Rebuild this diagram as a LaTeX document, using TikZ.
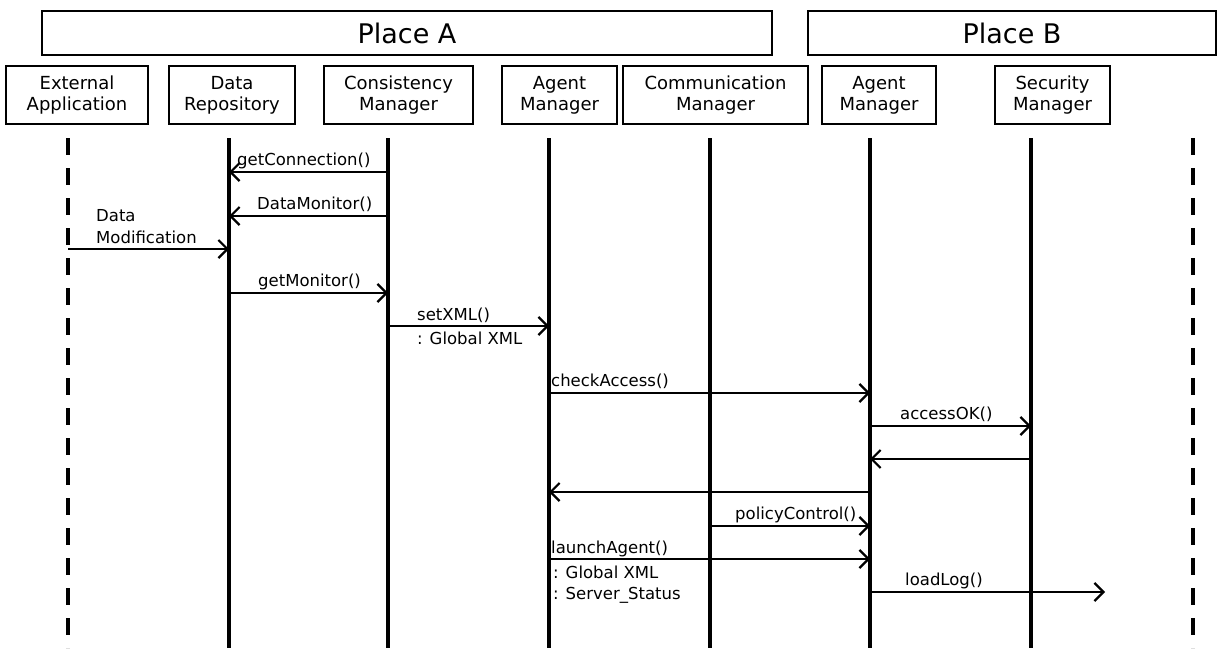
\documentclass[tikz,border=0pt]{standalone}
\usepackage{fontspec}
\setmainfont{DejaVu Sans}
\usetikzlibrary{arrows.meta}

\tikzset{
  placebox/.style={draw, line width=1.6pt, inner sep=0pt, minimum height=44pt, font=\fontsize{27}{30}\selectfont},
  actor/.style={draw, line width=1.6pt, inner sep=0pt, minimum height=58pt, align=center, font=\fontsize{18}{21}\selectfont},
  life/.style={line width=3.8pt},
  dashlife/.style={line width=4pt, dash pattern=on 17pt off 13pt},
  msg/.style={line width=1.6pt, -{Straight Barb[length=9pt,width=18pt,line width=2.2pt]}},
  lbl/.style={anchor=base west, inner sep=0pt, font=\fontsize{16.5}{20}\selectfont},
}

\begin{document}
\begin{tikzpicture}[x=1pt,y=-1pt]
        \useasboundingbox (0,0) rectangle (1221,648);
        % Places
            \node[placebox, minimum width=730pt] (placeA) at (407,33) {Place A};
            \node[placebox, minimum width=408pt] (placeB) at (1012,33) {Place B};
        % Actors
            \node[actor, minimum width=142pt] (extApp) at (77,95) {External\\Application};
            \node[actor, minimum width=126pt] (dataRep) at (232,95) {Data\\Repository};
            \node[actor, minimum width=149pt] (consMgr) at (398.5,95) {Consistency\\Manager};
            \node[actor, minimum width=115pt] (agentA) at (559.5,95) {Agent\\Manager};
            \node[actor, minimum width=185pt] (commMgr) at (715.5,95) {Communication\\Manager};
            \node[actor, minimum width=114pt] (agentB) at (879,95) {Agent\\Manager};
            \node[actor, minimum width=115pt] (secMgr) at (1052.5,95) {Security\\Manager};
        % Lifelines
            \coordinate (extL) at (68,138);
            \coordinate (repL) at (229,138);
            \coordinate (consL) at (388,138);
            \coordinate (agAL) at (549,138);
            \coordinate (comL) at (710,138);
            \coordinate (agBL) at (870,138);
            \coordinate (secL) at (1031,138);
            \coordinate (farL) at (1193,138);
            \draw[dashlife] (extL) -- (extL |- 0,648);
            \draw[dashlife] (farL) -- (farL |- 0,648);
            \foreach \l in {repL,consL,agAL,comL,agBL,secL}
                \draw[life] (\l) -- (\l |- 0,648);
        %%%%%%%%%%%%%%%%%%%%%%%%%%%%%%%%%%%%%%
        % Place A messages
            \draw[msg] (consL |- 0,172) -- (repL |- 0,172); % getConnection
            \node[lbl] (getConn) at (237,165) {getConnection()};
            \draw[msg] (consL |- 0,216) -- (repL |- 0,216); % DataMonitor
            \node[lbl] (dataMon) at (257,209) {DataMonitor()};
            \draw[msg] (extL |- 0,249) -- (repL |- 0,249); % Data Modification
            \node[lbl] (dataTxt) at (96,221) {Data};
            \node[lbl] (modTxt) at (96,243) {Modification};
            \draw[msg] (repL |- 0,293) -- (consL |- 0,293); % getMonitor
            \node[lbl] (getMon) at (258,286) {getMonitor()};
            \draw[msg] (consL |- 0,326) -- (agAL |- 0,326); % setXML
            \node[lbl] (setXml) at (417,320) {setXML()};
            \node[lbl] (setArg) at (417,344) {: Global XML};
        %%%%%%%%%%%%%%%%%%%%%%%%%%%%%%%%%%%%%%
        % Place A <-> Place B
            \draw[msg] (agAL |- 0,393) -- (agBL |- 0,393); % checkAccess
            \node[lbl] (chkAcc) at (551,386) {checkAccess()};
            \draw[msg] (agBL |- 0,426) -- (secL |- 0,426); % accessOK
            \node[lbl] (accOk) at (900,419) {accessOK()};
            \draw[msg] (secL |- 0,459) -- (agBL |- 0,459); % reply
            \draw[msg] (agBL |- 0,492) -- (agAL |- 0,492); % reply
            \draw[msg] (comL |- 0,526) -- (agBL |- 0,526); % policyControl
            \node[lbl] (polCtl) at (735,519) {policyControl()};
            \draw[msg] (agAL |- 0,559) -- (agBL |- 0,559); % launchAgent
            \node[lbl] (launch) at (551,553) {launchAgent()};
            \node[lbl] (launchArgA) at (553,578) {: Global XML};
            \node[lbl] (launchArgB) at (553,599) {: Server\_Status};
            \coordinate (logEnd) at (1105,592);
            \draw[msg] (agBL |- logEnd) -- (logEnd); % loadLog
            \node[lbl] (loadLog) at (905,585) {loadLog()};
     \end{tikzpicture}
\end{document}
